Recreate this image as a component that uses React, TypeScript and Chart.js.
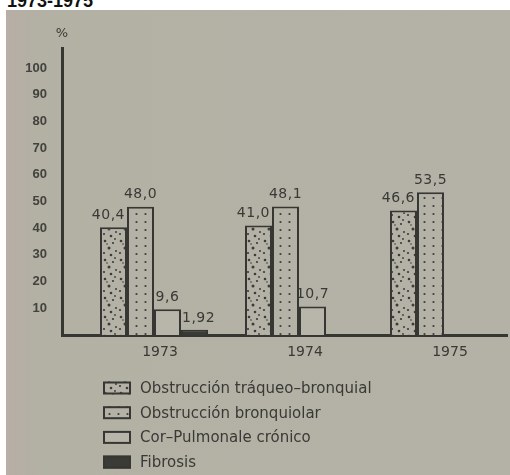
import { useEffect, useRef } from 'react';
import { Chart, registerables } from 'chart.js';

Chart.register(...registerables);

// ---- data ----
const titleText = '1973-1975';
const unitLabel = '%';
const years = [1973, 1974, 1975];
const seriesNames = [
  'Obstrucción tráqueo–bronquial',
  'Obstrucción bronquiolar',
  'Cor–Pulmonale crónico',
  'Fibrosis',
];
const traqueoBronquial: (number | null)[] = [40.4, 41.0, 46.6];
const bronquiolar: (number | null)[] = [48.0, 48.1, 53.5];
const corPulmonale: (number | null)[] = [9.6, 10.7, null];
const fibrosis: (number | null)[] = [1.92, null, null];
const yTickValues = [10, 20, 30, 40, 50, 60, 70, 80, 90, 100];

// ---- styles ----
const INK = '#363633';
const TEXT = '#393936';
const PAPER = '#b4b2a6';
const FONT = '"DejaVu Sans", sans-serif';
// label alignment per series: left bar labels sit left, small last bar labels sit right
const labelAlign: ('right' | 'center' | 'left')[] = ['right', 'center', 'center', 'left'];

function makePattern(bg: string, dots: number[][], w: number, h: number, dotColor: string) {
  const c = document.createElement('canvas');
  c.width = w;
  c.height = h;
  const g = c.getContext('2d')!;
  g.fillStyle = bg;
  g.fillRect(0, 0, w, h);
  g.fillStyle = dotColor;
  for (const [x, y, r] of dots) {
    g.beginPath();
    g.arc(x, y, r, 0, Math.PI * 2);
    g.fill();
  }
  return g.createPattern(c, 'repeat') as CanvasPattern;
}

const fmt = (v: number) => {
  const oneDec = Math.abs(Math.round(v * 10) - v * 10) < 1e-9;
  return (oneDec ? v.toFixed(1) : v.toFixed(2)).replace('.', ',');
};

const valueLabelsPlugin = {
  id: 'valueLabels',
  afterDatasetsDraw(chart: any) {
    const ctx = chart.ctx as CanvasRenderingContext2D;
    ctx.save();
    ctx.font = `14px ${FONT}`;
    (ctx as any).letterSpacing = '0.5px';
    ctx.fillStyle = TEXT;
    ctx.textBaseline = 'bottom';
    chart.data.datasets.forEach((ds: any, di: number) => {
      const meta = chart.getDatasetMeta(di);
      const align = labelAlign[di];
      meta.data.forEach((el: any, i: number) => {
        const p = ds.data[i];
        if (!p || p.y == null) return;
        let x = el.x;
        if (align === 'right') x = el.x + el.width / 2 - 2;
        if (align === 'left') x = el.x - el.width / 2 + 1;
        ctx.textAlign = align;
        ctx.fillText(fmt(p.y), x, el.y - 5);
      });
    });
    ctx.restore();
  },
};

const decorPlugin = {
  id: 'decor',
  afterDraw(chart: any) {
    const ctx = chart.ctx as CanvasRenderingContext2D;
    const area = chart.chartArea;
    ctx.save();
    // unit label above the y axis
    ctx.font = `13px ${FONT}`;
    ctx.fillStyle = TEXT;
    ctx.textAlign = 'center';
    ctx.textBaseline = 'middle';
    ctx.fillText(unitLabel, area.left, area.top - 14);

    // legend, one entry per row
    const boxX = 97;
    const boxW = 28;
    const boxH = 13;
    const textX = 134;
    const y0 = area.bottom + 53;
    const step = 24.7;
    ctx.font = `15px ${FONT}`;
    ctx.textAlign = 'left';
    chart.data.datasets.forEach((ds: any, i: number) => {
      const cy = y0 + i * step;
      ctx.fillStyle = ds.backgroundColor;
      ctx.fillRect(boxX, cy - boxH / 2, boxW, boxH);
      ctx.lineWidth = 2;
      ctx.strokeStyle = INK;
      ctx.strokeRect(boxX + 1, cy - boxH / 2 + 1, boxW - 2, boxH - 2);
      ctx.fillStyle = TEXT;
      ctx.fillText(ds.label, textX, cy + 1);
    });
    ctx.restore();
  },
};

export default function App() {
  const ref = useRef<HTMLCanvasElement>(null);

  useEffect(() => {
    const stipple = makePattern(
      PAPER,
      [
        [3, 3, 1.3], [11, 5, 1.1], [7, 10, 1.5], [14, 13, 1.0],
        [2, 15, 1.1], [9, 17, 1.3], [5, 6, 0.8], [13, 1, 0.9],
      ],
      16, 19, '#3c3c39'
    );
    const grid = makePattern(PAPER, [[4.5, 4, 1.1]], 9, 8, '#3c3c39');
    const series = [traqueoBronquial, bronquiolar, corPulmonale, fibrosis];
    const fills: any[] = [stipple, grid, '#b8b6aa', '#3a3a37'];

    const chart = new Chart(ref.current!, {
      type: 'bar',
      data: {
        datasets: series.map((arr, si) => ({
          label: seriesNames[si],
          data: years.map((x, i) => ({ x, y: arr[i] })) as any,
          backgroundColor: fills[si],
          borderColor: INK,
          borderWidth: 2,
          categoryPercentage: 0.745,
          barPercentage: 1,
        })),
      },
      options: {
        responsive: false,
        animation: false,
        devicePixelRatio: 1,
        events: [],
        layout: { padding: { top: 38, right: 3, bottom: 110, left: 0 } },
        plugins: {
          legend: { display: false },
          tooltip: { enabled: false },
        },
        scales: {
          x: {
            type: 'linear',
            min: 1972.3655,
            max: 1975.4345,
            offset: false,
            grid: { display: false, drawTicks: false },
            border: { display: true, width: 3, color: INK },
            ticks: {
              stepSize: 1,
              includeBounds: false,
              autoSkip: false,
              padding: 9,
              labelOffset: 6,
              color: TEXT,
              font: { family: FONT, size: 14 },
              callback: (v: any) => String(v),
            },
            afterBuildTicks: (axis: any) => {
              axis.ticks = years.map((value) => ({ value }));
            },
            afterFit: (axis: any) => {
              axis.height = 30;
            },
          } as any,
          y: {
            min: 0,
            max: 107.5,
            grid: { display: false, drawTicks: false },
            border: { display: true, width: 3, color: INK },
            ticks: {
              stepSize: 10,
              includeBounds: false,
              autoSkip: false,
              padding: 15,
              color: '#42423f',
              font: { family: '"Liberation Sans", sans-serif', size: 13, weight: 'bold' },
            },
            afterBuildTicks: (axis: any) => {
              axis.ticks = yTickValues.map((value) => ({ value }));
            },
            afterFit: (axis: any) => {
              axis.width = 56;
            },
          } as any,
        },
      },
      plugins: [valueLabelsPlugin, decorPlugin],
    });
    return () => chart.destroy();
  }, []);

  return (
    <div
      style={{
        position: 'absolute',
        left: 0,
        top: 0,
        width: 510,
        height: 475,
        background: '#ffffff',
        overflow: 'hidden',
      }}
    >
      <div
        style={{
          position: 'absolute',
          left: 7,
          top: -8,
          font: 'bold 18px "Liberation Sans", sans-serif',
          lineHeight: '18px',
          color: '#111111',
          whiteSpace: 'nowrap',
        }}
      >
        {titleText}
      </div>
      <div
        style={{
          position: 'absolute',
          left: 6,
          top: 10,
          width: 504,
          height: 465,
          background: 'linear-gradient(90deg, #b8aea5 0%, #b3b0a4 6%, #b4b2a6 100%)',
        }}
      >
        <canvas ref={ref} width={504} height={465} style={{ display: 'block' }} />
      </div>
    </div>
  );
}
